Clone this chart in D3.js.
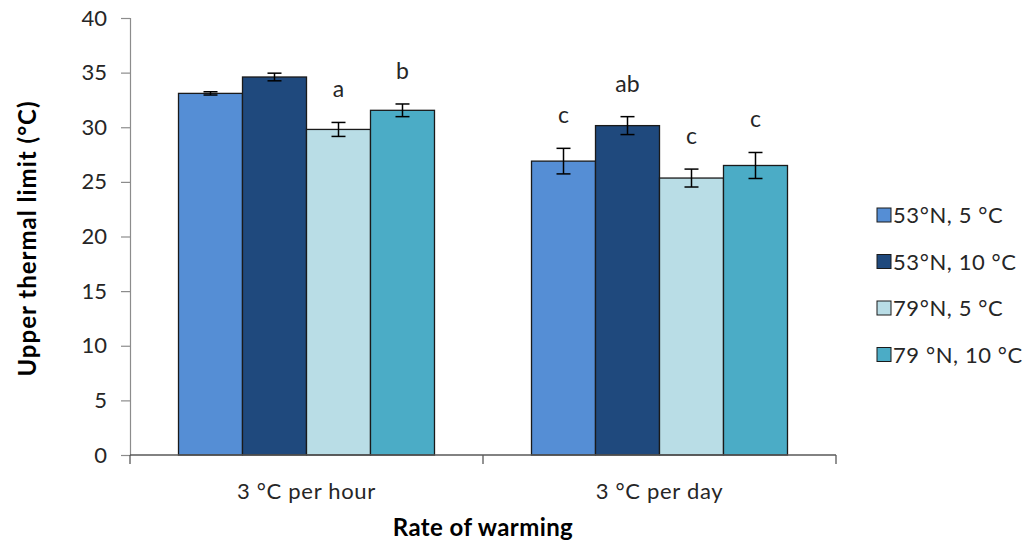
<!DOCTYPE html>
<html>
<head>
<meta charset="utf-8">
<script src="https://cdn.jsdelivr.net/npm/d3@7"></script>
<style>
  html, body { margin: 0; padding: 0; background: #fff; }
  svg text { font-family: Lato, "Open Sans", sans-serif; fill: #262626; }
</style>
</head>
<body>
<svg id="chart" width="1033" height="546"></svg>
<script>
// Upper thermal limit by warming rate and population / acclimation group
const categories = ["3 °C per hour", "3 °C per day"];
const series = ["53°N, 5 °C", "53°N, 10 °C", "79°N, 5 °C", "79 °N, 10 °C"];
const colors = ["#558ED5", "#1F497D", "#B9DDE6", "#4BACC6"];
const perHour = [33.1, 34.6, 29.8, 31.55];
const perHourErr = [0.15, 0.35, 0.64, 0.58];
const perDay = [26.9, 30.15, 25.35, 26.5];
const perDayErr = [1.17, 0.82, 0.82, 1.19];
const perHourLetters = ["", "", "a", "b"];
const perDayLetters = ["c", "ab", "c", "c"];
const yTicks = [0, 5, 10, 15, 20, 25, 30, 35, 40];

const values = [perHour, perDay];
const errors = [perHourErr, perDayErr];
const letters = [perHourLetters, perDayLetters];

const svg = d3.select("#chart");
const m = { left: 130, right: 836, top: 18, bottom: 455 };

const x = d3.scaleBand().domain(categories).range([m.left, m.right]).padding(0);
const xs = d3.scaleBand().domain(series).range([0, x.bandwidth()])
  .paddingInner(0).paddingOuter(0.758);
const y = d3.scaleLinear().domain([0, 40]).range([m.bottom, m.top]);

// y axis
const yAxis = svg.append("g").attr("transform", `translate(${m.left},0)`)
  .call(d3.axisLeft(y).tickValues(yTicks).tickSize(9).tickPadding(14));
yAxis.select(".domain").attr("stroke", "#8c8c8c").attr("stroke-width", 1.2);
yAxis.selectAll(".tick line").attr("stroke", "#8c8c8c").attr("stroke-width", 1.2);
yAxis.selectAll(".tick text").attr("font-size", 22)
  .style("font-family", "Lato, sans-serif").attr("fill", "#262626");

// bars
const rows = [];
categories.forEach((c, ci) => series.forEach((s, si) => rows.push({
  c, s, si, v: values[ci][si], e: errors[ci][si], l: letters[ci][si]
})));

const g = svg.append("g");
g.selectAll("rect.bar").data(rows).join("rect")
  .attr("class", "bar")
  .attr("x", d => x(d.c) + xs(d.s))
  .attr("width", xs.bandwidth())
  .attr("y", d => y(d.v))
  .attr("height", d => y(0) - y(d.v))
  .attr("fill", d => colors[d.si])
  .attr("stroke", "#1a1a1a").attr("stroke-width", 1.3);

// error bars
const cap = 7;
const cx = d => x(d.c) + xs(d.s) + xs.bandwidth() / 2;
const eb = g.selectAll("g.err").data(rows).join("g").attr("class", "err")
  .attr("stroke", "#000").attr("stroke-width", 1.5);
eb.append("line")
  .attr("x1", cx).attr("x2", cx)
  .attr("y1", d => y(d.v + d.e)).attr("y2", d => y(d.v - d.e));
eb.append("line")
  .attr("x1", d => cx(d) - cap).attr("x2", d => cx(d) + cap)
  .attr("y1", d => y(d.v + d.e)).attr("y2", d => y(d.v + d.e));
eb.append("line")
  .attr("x1", d => cx(d) - cap).attr("x2", d => cx(d) + cap)
  .attr("y1", d => y(d.v - d.e)).attr("y2", d => y(d.v - d.e));

// significance letters
g.selectAll("text.sig").data(rows.filter(d => d.l)).join("text")
  .attr("class", "sig")
  .attr("x", cx)
  .attr("y", d => y(d.v + d.e + 2.3))
  .attr("text-anchor", "middle")
  .attr("font-size", 23)
  .text(d => d.l);

// x axis
const xAxis = svg.append("g").attr("transform", `translate(0,${m.bottom})`);
xAxis.append("line").attr("x1", m.left).attr("x2", m.right)
  .attr("stroke", "#595959").attr("stroke-width", 1.3);
[m.left, x(categories[1]), m.right].forEach(px => {
  xAxis.append("line").attr("x1", px).attr("x2", px).attr("y1", 0).attr("y2", 9)
    .attr("stroke", "#595959").attr("stroke-width", 1.3);
});
xAxis.selectAll("text.cat").data(categories).join("text")
  .attr("class", "cat")
  .attr("x", d => x(d) + x.bandwidth() / 2)
  .attr("y", 44)
  .attr("text-anchor", "middle")
  .attr("font-size", 22)
  .attr("letter-spacing", 0.7)
  .text(d => d);

// axis titles
svg.append("text")
  .attr("x", (m.left + m.right) / 2).attr("y", 536)
  .attr("text-anchor", "middle").attr("font-size", 24).attr("font-weight", "bold")
  .attr("letter-spacing", 0.4)
  .style("fill", "#000")
  .text("Rate of warming");
svg.append("text")
  .attr("transform", `translate(36,${(m.top + m.bottom) / 2 + 2}) rotate(-90)`)
  .attr("text-anchor", "middle").attr("font-size", 24).attr("font-weight", "bold")
  .attr("letter-spacing", 1)
  .style("fill", "#000")
  .text("Upper thermal limit (°C)");

// legend
const legend = svg.append("g").attr("transform", "translate(877,208)");
const li = legend.selectAll("g").data(series).join("g")
  .attr("transform", (d, i) => `translate(0,${i * 46.5})`);
li.append("rect").attr("width", 14).attr("height", 14)
  .attr("fill", (d, i) => colors[i]).attr("stroke", "#1a1a1a").attr("stroke-width", 1);
li.append("text").attr("x", 16).attr("y", 15)
  .attr("font-size", 22).attr("letter-spacing", 0.6).text(d => d);
</script>
</body>
</html>
